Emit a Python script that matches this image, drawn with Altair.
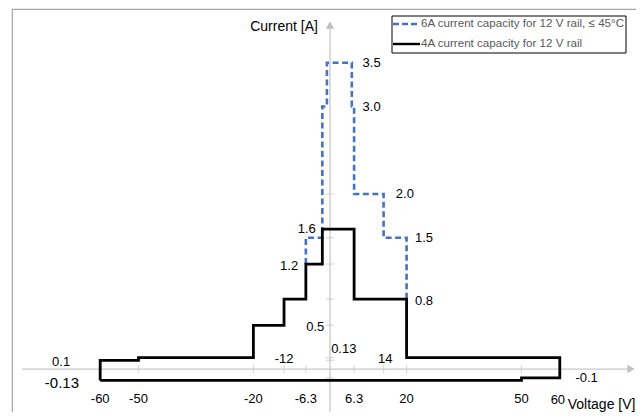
import altair as alt
import pandas as pd

# 4A current capacity for 12 V rail (closed outline)
black_x = [-60, -60, -50, -50, -20, -20, -12, -12, -6.3, -6.3, -2, -2, 6.3, 6.3, 20, 20, 60, 60, 50, 50, -60]
black_y = [-0.13, 0.1, 0.1, 0.13, 0.13, 0.5, 0.5, 0.8, 0.8, 1.2, 1.2, 1.6, 1.6, 0.8, 0.8, 0.13, 0.13, -0.1, -0.1, -0.13, -0.13]
# 6A current capacity for 12 V rail, <= 45C
blue_x = [-6.3, -6.3, -2, -2, -0.8, -0.8, 5.7, 5.7, 6.3, 6.3, 14, 14, 20, 20]
blue_y = [1.2, 1.5, 1.5, 3.0, 3.0, 3.5, 3.5, 3.0, 3.0, 2.0, 2.0, 1.5, 1.5, 0.8]

x_ticks = [-60, -50, -20, -12, -6.3, 6.3, 14, 20, 50, 60]
y_ticks = [-0.13, -0.1, 0.1, 0.13, 0.5, 0.8, 1.2, 1.5, 1.6, 2.0]

# value labels: text, anchor x, anchor y, alignment, font size
lab_text = ["3.5", "3.0", "2.0", "1.5", "0.8", "1.6", "1.2", "0.5", "0.13", "-12", "14",
            "0.1", "-0.13", "-0.1",
            "-60", "-50", "-20", "-6.3", "6.3", "20", "50", "60"]
lab_x = [8.5, 8.5, 17.2, 22.2, 22.2, -3.7, -8.3, -1.5, 0.3, -12, 14.4,
         -70.2, -70, 67,
         -60, -50, -20, -6.3, 6.3, 20, 50, 59.5]
lab_y = [3.5, 3.0, 2.0, 1.5, 0.78, 1.6, 1.18, 0.48, 0.225, 0.12, 0.12,
         0.077, -0.163, -0.106,
         -0.337, -0.337, -0.337, -0.337, -0.337, -0.337, -0.337, -0.35]
lab_align = ["left"] * 5 + ["right"] * 3 + ["left"] + ["center"] * 13
lab_size = [13] * 12 + [15] + [13] * 9

legend_labels = ["6A current capacity for 12 V rail, \u2264 45\u00b0C", "4A current capacity for 12 V rail"]

FONT = "Liberation Sans, Arial, sans-serif"
AXIS_GRAY = "#c8c8c8"

black_df = pd.DataFrame({"v": black_x, "i": black_y, "o": list(range(len(black_x)))})
blue_df = pd.DataFrame({"v": blue_x, "i": blue_y, "o": list(range(len(blue_x)))})
labels_df = pd.DataFrame({"t": lab_text, "x": lab_x, "y": lab_y, "a": lab_align, "s": lab_size})
xt_df = pd.DataFrame({"v": x_ticks, "z": [0] * len(x_ticks)})
yt_df = pd.DataFrame({"i": y_ticks, "z": [0] * len(y_ticks)})

xs = alt.Scale(domain=[-84.07, 79.9], nice=False, zero=False)
ys = alt.Scale(domain=[-0.491, 4.126], nice=False, zero=False)


def X(f):
    return alt.X(f, type="quantitative", scale=xs, axis=None)


def Y(f):
    return alt.Y(f, type="quantitative", scale=ys, axis=None)


one = pd.DataFrame({"k": [0]})

# frame lines (top and left)
frame_top = alt.Chart(one).mark_rule(color="#a6a6a6", strokeWidth=1.2).encode(
    x=alt.value(4), x2=alt.value(628), y=alt.value(1.3))
frame_left = alt.Chart(one).mark_rule(color="#a6a6a6", strokeWidth=1.2).encode(
    x=alt.value(4.3), y=alt.value(0.8), y2=alt.value(404))

# axes
xa_df = pd.DataFrame({"x1": [-80.4], "x2": [78.0], "y": [0.0]})
ya_df = pd.DataFrame({"x": [0.0], "y1": [-0.5], "y2": [3.9]})
x_axis = alt.Chart(xa_df).mark_rule(color=AXIS_GRAY, strokeWidth=1.3).encode(
    x=X("x1"), x2="x2", y=Y("y"))
y_axis = alt.Chart(ya_df).mark_rule(color=AXIS_GRAY, strokeWidth=1.3).encode(
    x=X("x"), y=Y("y1"), y2="y2")
xar_df = pd.DataFrame({"x": [78.6], "y": [0.0]})
yar_df = pd.DataFrame({"x": [0.0], "y": [3.93]})
x_arrow = alt.Chart(xar_df).mark_point(shape="triangle-right", filled=True, color="#c0c0c0", size=70, opacity=1).encode(
    x=X("x"), y=Y("y"))
y_arrow = alt.Chart(yar_df).mark_point(shape="triangle-up", filled=True, color="#c0c0c0", size=70, opacity=1).encode(
    x=X("x"), y=Y("y"))

x_tick_marks = alt.Chart(xt_df).mark_tick(orient="vertical", size=8, thickness=1.2, color=AXIS_GRAY).encode(
    x=X("v"), y=Y("z"))
y_tick_marks = alt.Chart(yt_df).mark_tick(orient="horizontal", size=8, thickness=1.2, color=AXIS_GRAY).encode(
    x=X("z"), y=Y("i"))

blue_line = alt.Chart(blue_df).mark_line(color="#4472C4", strokeWidth=2.6, strokeDash=[6, 3.5],
                                          strokeJoin="miter", strokeCap="butt").encode(
    x=X("v"), y=Y("i"), order="o:Q")
black_line = alt.Chart(black_df).mark_line(color="black", strokeWidth=2.8,
                                            strokeJoin="miter", strokeCap="butt").encode(
    x=X("v"), y=Y("i"), order="o:Q")


def label_layer(align, size):
    d = labels_df[(labels_df["a"] == align) & (labels_df["s"] == size)]
    return alt.Chart(d).mark_text(font=FONT, fontSize=size, color="black", align=align, baseline="middle").encode(
        x=X("x"), y=Y("y"), text="t:N")


label_layers = [label_layer("left", 13), label_layer("right", 13), label_layer("center", 13),
                label_layer("center", 15)]

ytitle_df = pd.DataFrame({"t": ["Current [A]"], "x": [-12], "y": [3.91]})
xtitle_df = pd.DataFrame({"t": ["Voltage [V]"], "x": [79.75], "y": [-0.411]})
ytitle = alt.Chart(ytitle_df).mark_text(font=FONT, fontSize=14, color="black", align="center", baseline="middle").encode(
    x=X("x"), y=Y("y"), text="t:N")
xtitle = alt.Chart(xtitle_df).mark_text(font=FONT, fontSize=14, color="black", align="right", baseline="middle").encode(
    x=X("x"), y=Y("y"), text="t:N")

# legend box
leg_box = alt.Chart(one).mark_rect(fill="white", stroke="black", strokeWidth=1).encode(
    x=alt.value(384), x2=alt.value(618), y=alt.value(8), y2=alt.value(45))
leg_blue = alt.Chart(one).mark_rule(color="#4472C4", strokeWidth=2.4, strokeDash=[6, 3]).encode(
    x=alt.value(385), x2=alt.value(412), y=alt.value(16))
leg_black = alt.Chart(one).mark_rule(color="black", strokeWidth=2.4).encode(
    x=alt.value(385), x2=alt.value(412), y=alt.value(36))
leg_t1 = alt.Chart(one).mark_text(font=FONT, fontSize=11.6, color="#595959", align="left", baseline="middle").encode(
    x=alt.value(413), y=alt.value(16), text=alt.value(legend_labels[0]))
leg_t2 = alt.Chart(one).mark_text(font=FONT, fontSize=11.6, color="#595959", align="left", baseline="middle").encode(
    x=alt.value(413), y=alt.value(36), text=alt.value(legend_labels[1]))

chart = alt.layer(
    frame_top, frame_left, x_axis, y_axis, x_arrow, y_arrow, x_tick_marks, y_tick_marks,
    blue_line, black_line, *label_layers, ytitle, xtitle, leg_box, leg_blue, leg_black, leg_t1, leg_t2
).properties(
    width=628, height=404, autosize=alt.AutoSizeParams(type="none"), padding=0
).configure_view(stroke=None)

chart.save("out.html", embed_options={"renderer": "svg", "actions": False})
